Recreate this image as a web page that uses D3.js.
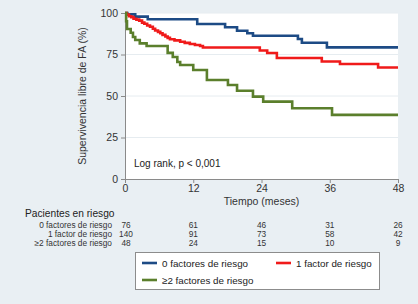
<!DOCTYPE html>
<html>
<head>
<meta charset="utf-8">
<script src="https://cdn.jsdelivr.net/npm/d3@7"></script>
<style>
  html, body { margin: 0; padding: 0; background: #e9eff3; }
  svg { display: block; font-family: "Liberation Sans", Arial, sans-serif; }
</style>
</head>
<body>
<svg id="chart" width="418" height="304"></svg>
<script>
// valores (tiempo en meses, supervivencia %)
const xTicks = [0, 12, 24, 36, 48];
const yTicks = [0, 25, 50, 75, 100];

const curve0 = [
  [0, 100], [0.4, 99.2], [1.8, 97.8], [4.0, 96.2], [12.7, 93.4], [17.6, 91.4],
  [19.7, 89.3], [21.5, 87.8], [22.5, 86.3], [30.4, 84.3], [31.1, 82.1],
  [35.5, 79.3], [48, 79.3]
];
const curve1 = [
  [0, 100], [0.3, 99], [0.7, 98], [1.1, 97.5], [1.5, 96.5], [2, 96], [2.5, 95.4],
  [3, 94.2], [3.4, 93.5], [3.9, 92.5], [4.4, 91.7], [4.9, 90.5], [5.3, 89.5],
  [5.8, 88.6], [6.2, 87.8], [6.6, 86.8], [7.1, 85.8], [7.5, 85], [7.9, 84.2],
  [8.7, 83.5], [9.7, 82.7], [10.5, 82], [11.4, 81.3], [12.3, 80.7], [13.2, 80.1],
  [13.7, 79.2], [23.7, 77.4], [25, 75.9], [26.7, 72.9], [34.6, 70.8],
  [37.8, 69.3], [44.5, 67.2], [48, 67.2]
];
const curve2 = [
  [0, 100], [0.2, 95], [0.35, 90.4], [1.0, 88.1], [1.4, 85.5], [1.8, 83.7],
  [2.6, 81.7], [3.8, 80.1], [7.5, 76], [8.4, 73.5], [9.2, 70.5], [9.7, 68.7],
  [12.0, 65.7], [14.4, 59.6], [18.1, 56.6], [19.7, 53.2], [22.5, 49.6],
  [24.3, 46.6], [29.4, 42.6], [36.4, 38.6], [48, 38.6]
];

const seriesNames = ["0 factores de riesgo", "1 factor de riesgo", "\u22652 factores de riesgo"];
const seriesColors = ["#1d4b85", "#f01a1a", "#5b7f2c"];

const risk0 = [76, 61, 46, 31, 26];
const risk1 = [140, 91, 73, 58, 42];
const risk2 = [48, 24, 15, 10, 9];

const svg = d3.select("#chart");
const margin = { left: 125, right: 20, top: 13, bottom: 125 };
const width = 418, height = 304;

const x = d3.scaleLinear().domain([0, 48]).range([margin.left, width - margin.right]);
const y = d3.scaleLinear().domain([0, 100]).range([height - margin.bottom, margin.top]);

// area del grafico
svg.append("rect")
  .attr("x", x(0)).attr("y", y(100))
  .attr("width", x(48) - x(0)).attr("height", y(0) - y(100))
  .attr("fill", "#ffffff");

// lineas de cuadricula
svg.append("g")
  .selectAll("line")
  .data(yTicks.filter(d => d > 0))
  .join("line")
  .attr("x1", x(0)).attr("x2", x(48))
  .attr("y1", d => y(d)).attr("y2", d => y(d))
  .attr("stroke", "#e6ecf0")
  .attr("stroke-width", 1);

const yAxis = g => g
  .attr("transform", `translate(${x(0)},0)`)
  .call(d3.axisLeft(y).tickValues(yTicks).tickSize(4).tickPadding(3))
  .call(g => g.select(".domain").attr("stroke", "#8a8a8a"))
  .call(g => g.selectAll(".tick line").attr("stroke", "#8a8a8a"))
  .call(g => g.selectAll(".tick text").attr("fill", "#333").attr("font-size", 10.5));

const xAxis = g => g
  .attr("transform", `translate(0,${y(0)})`)
  .call(d3.axisBottom(x).tickValues(xTicks).tickSize(4).tickPadding(2))
  .call(g => g.select(".domain").attr("stroke", "#8a8a8a"))
  .call(g => g.selectAll(".tick line").attr("stroke", "#8a8a8a"))
  .call(g => g.selectAll(".tick text").attr("fill", "#333").attr("font-size", 10.5));

svg.append("g").call(yAxis);
svg.append("g").call(xAxis);

svg.selectAll("g.tick text").attr("font-family", "Liberation Sans, Arial, sans-serif");

// curvas Kaplan-Meier
const line = d3.line()
  .x(d => x(d[0]))
  .y(d => y(d[1]))
  .curve(d3.curveStepAfter);

[curve0, curve1, curve2].forEach((c, i) => {
  svg.append("path")
    .datum(c)
    .attr("fill", "none")
    .attr("stroke", seriesColors[i])
    .attr("stroke-width", 2.6)
    .attr("d", line);
});

// titulos
svg.append("text")
  .attr("transform", `translate(86,${(y(0) + y(100)) / 2}) rotate(-90)`)
  .attr("text-anchor", "middle")
  .attr("fill", "#333")
  .attr("font-size", 10.5)
  .text("Supervivencia libre de FA (%)");

svg.append("text")
  .attr("x", (x(0) + x(48)) / 2)
  .attr("y", 205)
  .attr("text-anchor", "middle")
  .attr("fill", "#333")
  .attr("font-size", 10.5)
  .text("Tiempo (meses)");

svg.append("text")
  .attr("x", 134)
  .attr("y", 167)
  .attr("fill", "#222")
  .attr("font-size", 10)
  .text("Log rank, p < 0,001");

// tabla de pacientes en riesgo
svg.append("text")
  .attr("x", 25)
  .attr("y", 217)
  .attr("fill", "#222")
  .attr("font-size", 10.2)
  .text("Pacientes en riesgo");

const riskRows = [risk0, risk1, risk2];
const rowY = [228, 237, 246];

riskRows.forEach((row, i) => {
  svg.append("text")
    .attr("x", 112)
    .attr("y", rowY[i])
    .attr("text-anchor", "end")
    .attr("fill", "#333")
    .attr("font-size", 8.3)
    .text(seriesNames[i]);

  svg.append("g")
    .selectAll("text")
    .data(row)
    .join("text")
    .attr("x", (d, j) => x(xTicks[j]) + (j === 0 ? 1 : 0))
    .attr("y", rowY[i])
    .attr("text-anchor", "middle")
    .attr("fill", "#333")
    .attr("font-size", 8.3)
    .text(d => d);
});

// leyenda
const legend = svg.append("g");
legend.append("rect")
  .attr("x", 135.5).attr("y", 252.5)
  .attr("width", 244).attr("height", 37)
  .attr("fill", "#ffffff")
  .attr("stroke", "#8c8c8c");

const legendPos = [[142, 263], [276, 263], [142, 280]];
legendPos.forEach((p, i) => {
  legend.append("line")
    .attr("x1", p[0]).attr("x2", p[0] + 15)
    .attr("y1", p[1]).attr("y2", p[1])
    .attr("stroke", seriesColors[i])
    .attr("stroke-width", 2.6);
  legend.append("text")
    .attr("x", p[0] + 20)
    .attr("y", p[1] + 3.5)
    .attr("fill", "#222")
    .attr("font-size", 9.8)
    .text(seriesNames[i]);
});
</script>
</body>
</html>
